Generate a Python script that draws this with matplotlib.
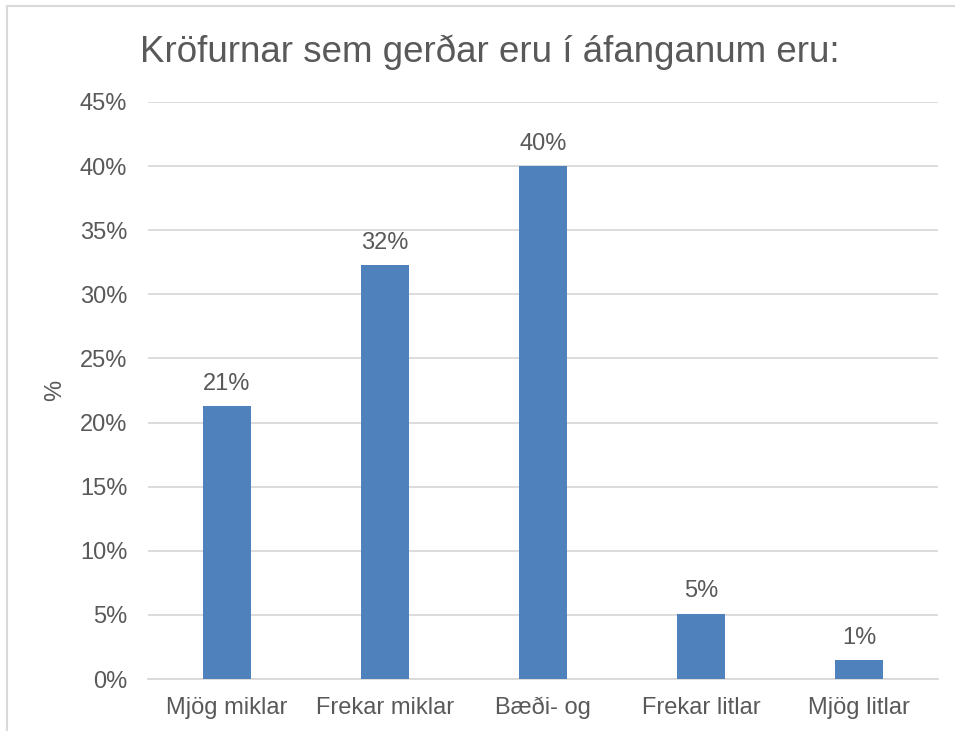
import matplotlib.pyplot as plt
from matplotlib.patches import Rectangle
from matplotlib.ticker import MultipleLocator, FuncFormatter

plt.rcParams['font.family'] = ['Liberation Sans', 'DejaVu Sans']

categories = ['Mjög miklar', 'Frekar miklar', 'Bæði- og', 'Frekar litlar', 'Mjög litlar']
values = [21.3, 32.3, 40.0, 5.1, 1.45]
labels = ['21%', '32%', '40%', '5%', '1%']

text_color = '#595959'
grid_color = '#D9D9D9'
bar_color = '#4F81BD'

fig = plt.figure(figsize=(9.55, 7.31), dpi=100)
ax = fig.add_axes([148 / 955, 1 - 679 / 731, 790 / 955, 577 / 731])

# chart border like the office frame
fig.patches.append(Rectangle((7 / 955, -0.05), 1.2, 1 - 6 / 731 + 0.05,
                             transform=fig.transFigure, fill=False,
                             edgecolor=grid_color, linewidth=1.5))

x = range(len(categories))
bars = ax.bar(x, values, width=0.31, color=bar_color, zorder=3)
for b, lab in zip(bars, labels):
    ax.annotate(lab, (b.get_x() + b.get_width() / 2, b.get_height()),
                xytext=(0, 8), textcoords='offset points',
                ha='center', va='bottom', fontsize=17, color=text_color)

ax.set_xlim(-0.5, len(categories) - 0.5)
ax.set_ylim(0, 45)
ax.yaxis.set_major_locator(MultipleLocator(5))
ax.yaxis.set_major_formatter(FuncFormatter(lambda v, p: f'{v:.0f}%'))
ax.set_xticks(list(x))
ax.set_xticklabels(categories)
ax.tick_params(axis='both', length=0, labelsize=17, labelcolor=text_color)
ax.tick_params(axis='y', pad=15)
ax.tick_params(axis='x', pad=13)
ax.grid(axis='y', color=grid_color, linewidth=1.3, zorder=0)
for s in ['top', 'right', 'left']:
    ax.spines[s].set_visible(False)
ax.spines['bottom'].set_color(grid_color)
ax.spines['bottom'].set_linewidth(1.3)

ax.set_ylabel('%', fontsize=17, color=text_color, labelpad=10)
fig.text(490 / 955, 1 - 52 / 731, 'Kröfurnar sem gerðar eru í áfanganum eru:',
         ha='center', va='center', fontsize=26.5, color=text_color)

fig.savefig('out.png', dpi=100)
